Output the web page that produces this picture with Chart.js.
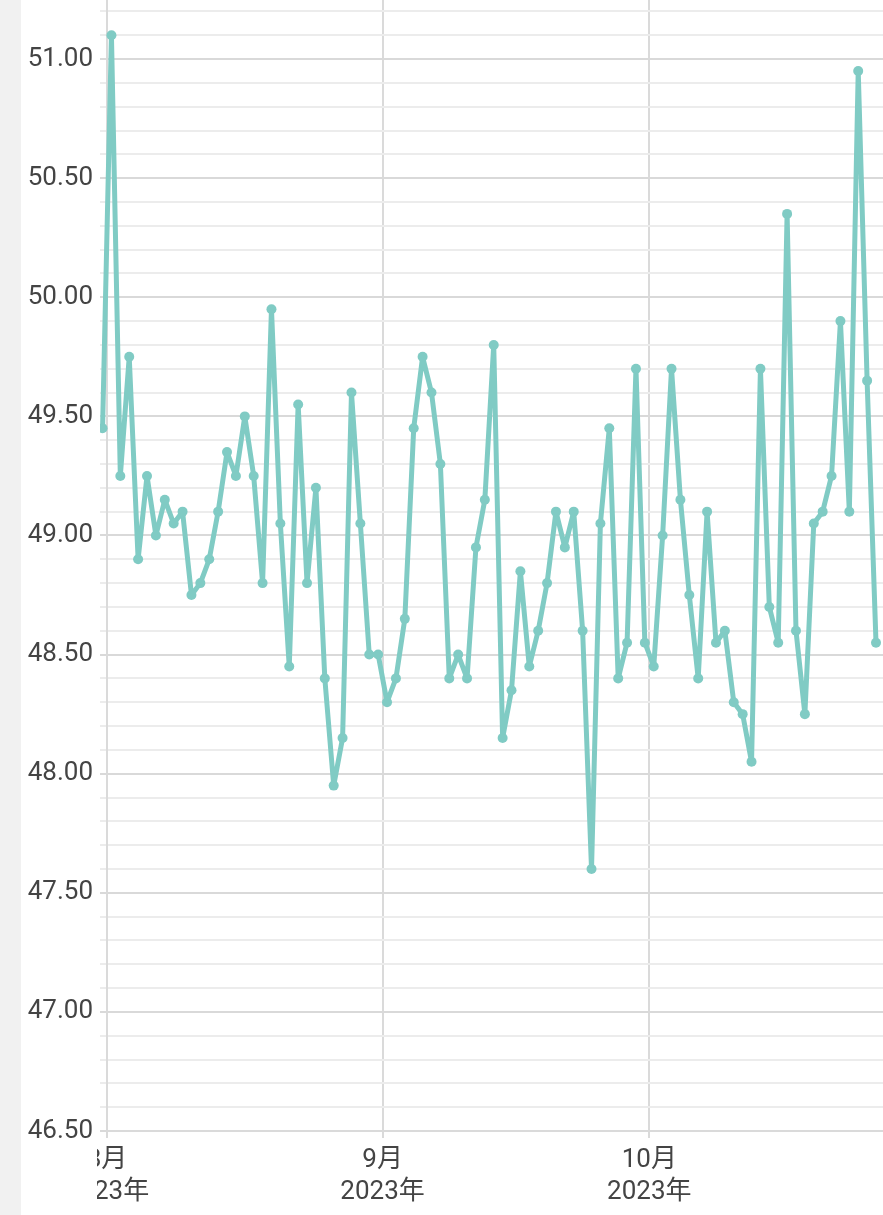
<!DOCTYPE html>
<html>
<head>
<meta charset="utf-8">
<script src="https://cdn.jsdelivr.net/npm/chart.js@4/dist/chart.umd.min.js"></script>
<style>
  html, body { margin: 0; padding: 0; background: #ffffff; overflow: hidden; width: 883px; height: 1215px; }
  #strip { position: absolute; left: 0; top: 0; width: 21px; height: 1215px; background: #f1f1f1; }
  #wrap { position: absolute; left: 21px; top: -35px; }
</style>
</head>
<body>
<div id="strip"></div>
<div id="wrap"><canvas id="grafik" width="876" height="1250"></canvas></div>
<script>
// hari sejak 1 Agustus 2023, titik pertama 31 Juli 12:00
const hariAwal = -0.5;
const nilai = [
  49.45, 51.10, 49.25, 49.75, 48.90, 49.25, 49.00, 49.15, 49.05, 49.10,
  48.75, 48.80, 48.90, 49.10, 49.35, 49.25, 49.50, 49.25, 48.80, 49.95,
  49.05, 48.45, 49.55, 48.80, 49.20, 48.40, 47.95, 48.15, 49.60, 49.05,
  48.50, 48.50, 48.30, 48.40, 48.65, 49.45, 49.75, 49.60, 49.30, 48.40,
  48.50, 48.40, 48.95, 49.15, 49.80, 48.15, 48.35, 48.85, 48.45, 48.60,
  48.80, 49.10, 48.95, 49.10, 48.60, 47.60, 49.05, 49.45, 48.40, 48.55,
  49.70, 48.55, 48.45, 49.00, 49.70, 49.15, 48.75, 48.40, 49.10, 48.55,
  48.60, 48.30, 48.25, 48.05, 49.70, 48.70, 48.55, 50.35, 48.60, 48.25,
  49.05, 49.10, 49.25, 49.90, 49.10, 50.95, 49.65, 48.55
];
// awal bulan (hari sejak 1 Agustus) dan labelnya
const tickBulan = [0, 31, 61];
const labelBulan = [["8月", "2023年"], ["9月", "2023年"], ["10月", "2023年"]];

const warnaGaris = "#80cbc4";
const font = "Roboto, 'Noto Sans CJK SC', sans-serif";

const titik = nilai.map((v, i) => ({ x: hariAwal + i, y: v }));

// label sumbu x terpotong di kiri, seperti pada gambar
const potongLabelX = {
  id: "potongLabelX",
  beforeDraw(chart) {
    const sx = chart.scales.x;
    if (sx._dipotong) return;
    const asli = sx.drawLabels;
    sx.drawLabels = function (area) {
      const c = this.ctx;
      c.save();
      c.beginPath();
      c.rect(76, 0, chart.width, chart.height);
      c.clip();
      asli.call(this, area);
      c.restore();
    };
    sx._dipotong = true;
  }
};

new Chart(document.getElementById("grafik"), {
  type: "line",
  data: {
    datasets: [{
      data: titik,
      borderColor: warnaGaris,
      backgroundColor: warnaGaris,
      borderWidth: 5,
      borderJoinStyle: "round",
      borderCapStyle: "round",
      pointRadius: 5,
      pointBorderWidth: 0,
      pointBackgroundColor: warnaGaris,
      tension: 0,
      clip: { left: 7, top: 30, right: 30, bottom: 7 }
    }]
  },
  options: {
    responsive: false,
    animation: false,
    devicePixelRatio: 1,
    layout: { padding: 0 },
    plugins: { legend: { display: false }, tooltip: { enabled: false } },
    scales: {
      x: {
        type: "linear",
        min: 0,
        max: 88.3,
        afterBuildTicks: (s) => { s.ticks = tickBulan.map(v => ({ value: v })); },
        ticks: {
          autoSkip: false,
          maxRotation: 0,
          padding: 6,
          color: "#444444",
          font: { family: font, size: 26, lineHeight: 1.25 },
          callback: (v) => labelBulan[tickBulan.indexOf(v)]
        },
        grid: { color: "#dadada", lineWidth: 2, tickLength: 7 },
        border: { display: true, color: "#dadada", width: 2 }
      },
      y: {
        min: 46.5,
        max: 51.3,
        afterFit: (s) => { s.width = 86; },
        ticks: {
          stepSize: 0.1,
          autoSkip: false,
          padding: 7,
          color: "#444444",
          font: { family: font, size: 26 },
          callback: (v) => {
            const r = Math.round(v * 10);
            return r % 5 === 0 ? (r / 10).toFixed(2) : "";
          }
        },
        grid: {
          lineWidth: 2,
          tickLength: 7,
          color: (c) => (Math.round(c.tick.value * 10) % 5 === 0 ? "#d9d9d9" : "#ececec")
        },
        border: { display: true, color: "#dadada", width: 2 }
      }
    }
  },
  plugins: [potongLabelX]
});
</script>
</body>
</html>
